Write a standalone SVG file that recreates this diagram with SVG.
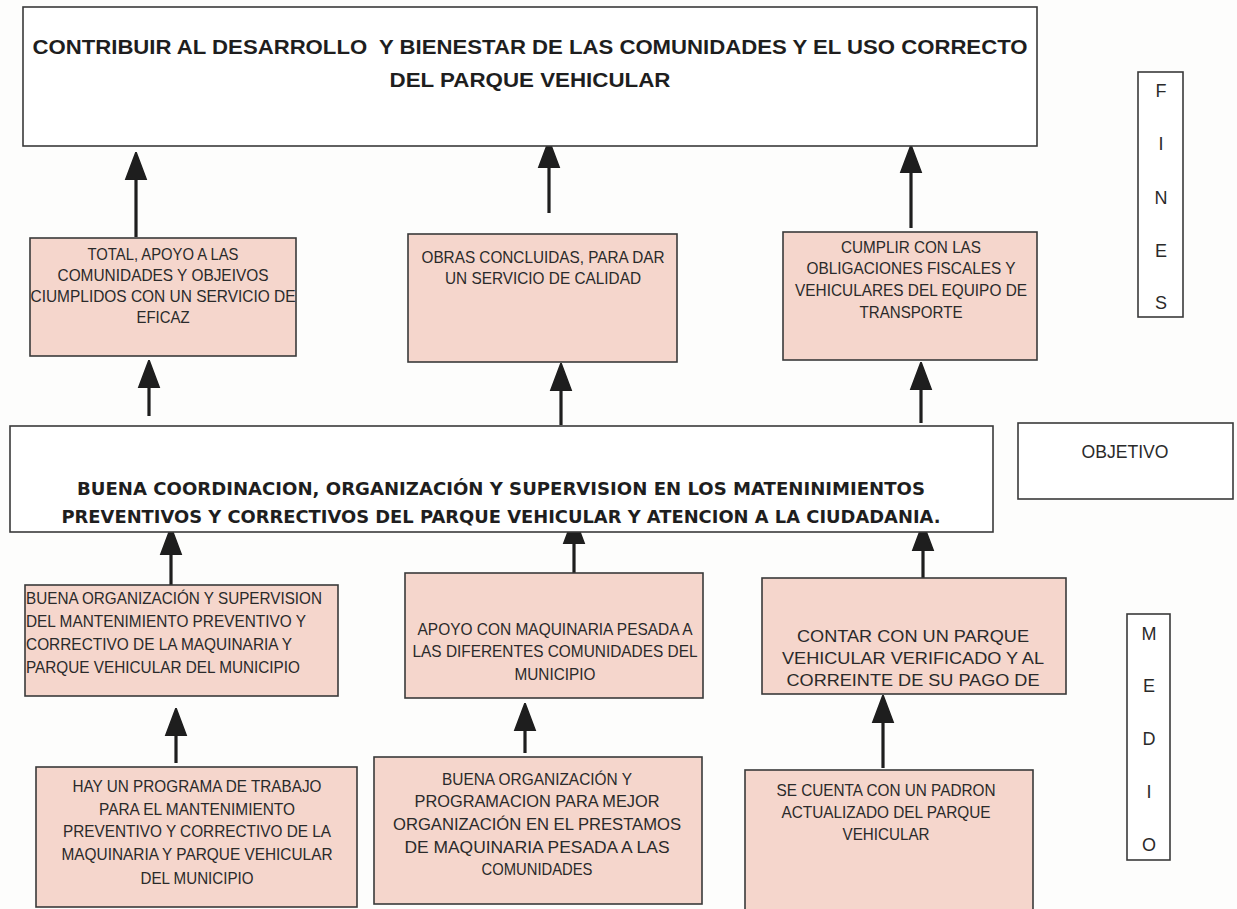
<svg xmlns="http://www.w3.org/2000/svg" width="1237" height="909" viewBox="0 0 1237 909">
<style>
.bg{fill:#fdfdfc}
.box{fill:#f5d6cc;stroke:#3a3a3a;stroke-width:1.6}
.wbox{fill:#ffffff;stroke:#3a3a3a;stroke-width:1.6}
.t{font-family:"Liberation Sans Narrow","Liberation Sans",Arial,sans-serif;font-size:17px;fill:#2a2a2a;text-anchor:middle}
.tl{text-anchor:start}
.title{font-family:"Liberation Sans",Arial,sans-serif;font-weight:bold;font-size:20px;fill:#1e1e1e;text-anchor:middle}
.obj{font-family:"DejaVu Sans",Verdana,sans-serif;font-weight:bold;font-size:17.5px;fill:#1e1e1e;text-anchor:middle}
.side{font-family:"Liberation Sans Narrow","Liberation Sans",Arial,sans-serif;font-size:18px;fill:#2a2a2a;text-anchor:middle}
.arr{stroke:#1e1e1e;stroke-width:3.2;fill:none;marker-end:url(#ah)}
</style>
<defs>
<marker id="ah" viewBox="0 0 28 24" refX="16" refY="12" markerWidth="28" markerHeight="24" markerUnits="userSpaceOnUse" orient="auto">
<path d="M0,1.5 L28,12 L0,22.5 Z" fill="#1e1e1e" stroke="#1e1e1e" stroke-width="1.5" stroke-linejoin="round"/>
</marker>
</defs>
<rect class="bg" x="0" y="0" width="1237" height="909"/>

<g id="connectors">
<line class="arr" x1="136" y1="237" x2="136" y2="164"/>
<line class="arr" x1="549" y1="213" x2="549" y2="152"/>
<line class="arr" x1="911" y1="228" x2="911" y2="157"/>
<line class="arr" x1="149" y1="416" x2="149" y2="372"/>
<line class="arr" x1="561" y1="425" x2="561" y2="375"/>
<line class="arr" x1="921" y1="423" x2="921" y2="374"/>
<line class="arr" x1="171" y1="585" x2="171" y2="539"/>
<line class="arr" x1="574" y1="573" x2="574" y2="528"/>
<line class="arr" x1="923" y1="578" x2="923" y2="535"/>
<line class="arr" x1="176" y1="763" x2="176" y2="720"/>
<line class="arr" x1="525" y1="753" x2="525" y2="715"/>
<line class="arr" x1="883" y1="768" x2="883" y2="707"/>
</g>

<g id="fin-principal">
<rect class="wbox" x="23" y="7" width="1014" height="139"/>
<text class="title" x="530" y="54" textLength="995" lengthAdjust="spacingAndGlyphs" xml:space="preserve">CONTRIBUIR AL DESARROLLO  Y BIENESTAR DE LAS COMUNIDADES Y EL USO CORRECTO</text>
<text class="title" x="530" y="87" textLength="281" lengthAdjust="spacingAndGlyphs">DEL PARQUE VEHICULAR</text>
</g>

<g id="label-fines">
<rect class="wbox" x="1138" y="72" width="45" height="245"/>
<text class="side" x="1161" y="97">F</text>
<text class="side" x="1161" y="150">I</text>
<text class="side" x="1161" y="204">N</text>
<text class="side" x="1161" y="257">E</text>
<text class="side" x="1161" y="309">S</text>
</g>

<g id="fin-1">
<rect class="box" x="30" y="238" width="266" height="118"/>
<text class="t" x="163" y="260" textLength="151" lengthAdjust="spacingAndGlyphs">TOTAL, APOYO A LAS</text>
<text class="t" x="163" y="281" textLength="211" lengthAdjust="spacingAndGlyphs">COMUNIDADES Y OBJEIVOS</text>
<text class="t" x="163" y="302" textLength="265" lengthAdjust="spacingAndGlyphs">CIUMPLIDOS CON UN SERVICIO DE</text>
<text class="t" x="163" y="323" textLength="53" lengthAdjust="spacingAndGlyphs">EFICAZ</text>
</g>

<g id="fin-2">
<rect class="box" x="408" y="234" width="269" height="128"/>
<text class="t" x="543" y="263" textLength="243" lengthAdjust="spacingAndGlyphs">OBRAS CONCLUIDAS, PARA DAR</text>
<text class="t" x="543" y="284" textLength="196" lengthAdjust="spacingAndGlyphs">UN SERVICIO DE CALIDAD</text>
</g>

<g id="fin-3">
<rect class="box" x="783" y="232" width="254" height="128"/>
<text class="t" x="911" y="253" textLength="140" lengthAdjust="spacingAndGlyphs">CUMPLIR CON LAS</text>
<text class="t" x="911" y="274" textLength="209" lengthAdjust="spacingAndGlyphs">OBLIGACIONES FISCALES Y</text>
<text class="t" x="911" y="296" textLength="232" lengthAdjust="spacingAndGlyphs">VEHICULARES DEL EQUIPO DE</text>
<text class="t" x="911" y="318" textLength="103" lengthAdjust="spacingAndGlyphs">TRANSPORTE</text>
</g>

<g id="objetivo-central">
<rect class="wbox" x="10" y="426" width="983" height="106"/>
<text class="obj" x="501" y="495" textLength="848" lengthAdjust="spacingAndGlyphs">BUENA COORDINACION, ORGANIZACIÓN Y SUPERVISION EN LOS MATENINIMIENTOS</text>
<text class="obj" x="501" y="523" textLength="879" lengthAdjust="spacingAndGlyphs">PREVENTIVOS Y CORRECTIVOS DEL PARQUE VEHICULAR Y ATENCION A LA CIUDADANIA.</text>
</g>

<g id="label-objetivo">
<rect class="wbox" x="1018" y="423" width="215" height="76"/>
<text class="side" x="1125" y="458" font-size="19" textLength="87" lengthAdjust="spacingAndGlyphs">OBJETIVO</text>
</g>

<g id="medio-1">
<rect class="box" x="25" y="585" width="313" height="111"/>
<text class="t tl" x="26" y="604" textLength="296" lengthAdjust="spacingAndGlyphs">BUENA ORGANIZACIÓN Y SUPERVISION</text>
<text class="t tl" x="26" y="627" textLength="280" lengthAdjust="spacingAndGlyphs">DEL MANTENIMIENTO PREVENTIVO Y</text>
<text class="t tl" x="26" y="650" textLength="266" lengthAdjust="spacingAndGlyphs">CORRECTIVO DE LA MAQUINARIA Y</text>
<text class="t tl" x="26" y="673" textLength="274" lengthAdjust="spacingAndGlyphs">PARQUE VEHICULAR DEL MUNICIPIO</text>
</g>

<g id="medio-2">
<rect class="box" x="405" y="573" width="298" height="125"/>
<text class="t" x="555" y="635" textLength="275" lengthAdjust="spacingAndGlyphs">APOYO CON MAQUINARIA PESADA A</text>
<text class="t" x="555" y="657" textLength="285" lengthAdjust="spacingAndGlyphs">LAS DIFERENTES COMUNIDADES DEL</text>
<text class="t" x="555" y="680" textLength="81" lengthAdjust="spacingAndGlyphs">MUNICIPIO</text>
</g>

<g id="medio-3">
<rect class="box" x="762" y="578" width="304" height="116"/>
<text class="t" x="913" y="642" font-size="18" textLength="232" lengthAdjust="spacingAndGlyphs">CONTAR CON UN PARQUE</text>
<text class="t" x="913" y="664" font-size="18" textLength="262" lengthAdjust="spacingAndGlyphs">VEHICULAR VERIFICADO Y AL</text>
<text class="t" x="913" y="686" font-size="18" textLength="253" lengthAdjust="spacingAndGlyphs">CORREINTE DE SU PAGO DE</text>
</g>

<g id="label-medio">
<rect class="wbox" x="1127" y="614" width="43" height="246"/>
<text class="side" x="1149" y="640">M</text>
<text class="side" x="1149" y="692">E</text>
<text class="side" x="1149" y="745">D</text>
<text class="side" x="1149" y="798">I</text>
<text class="side" x="1149" y="851">O</text>
</g>

<g id="causa-1">
<rect class="box" x="36" y="767" width="321" height="140"/>
<text class="t" x="197" y="792" textLength="249" lengthAdjust="spacingAndGlyphs">HAY UN PROGRAMA DE TRABAJO</text>
<text class="t" x="197" y="815" textLength="196" lengthAdjust="spacingAndGlyphs">PARA EL MANTENIMIENTO</text>
<text class="t" x="197" y="837" textLength="268" lengthAdjust="spacingAndGlyphs">PREVENTIVO Y CORRECTIVO DE LA</text>
<text class="t" x="197" y="860" textLength="271" lengthAdjust="spacingAndGlyphs">MAQUINARIA Y PARQUE VEHICULAR</text>
<text class="t" x="197" y="884" textLength="113" lengthAdjust="spacingAndGlyphs">DEL MUNICIPIO</text>
</g>

<g id="causa-2">
<rect class="box" x="374" y="757" width="328" height="147"/>
<text class="t" x="537" y="785" textLength="190" lengthAdjust="spacingAndGlyphs">BUENA ORGANIZACIÓN Y</text>
<text class="t" x="537" y="807" textLength="245" lengthAdjust="spacingAndGlyphs">PROGRAMACION PARA MEJOR</text>
<text class="t" x="537" y="830" textLength="288" lengthAdjust="spacingAndGlyphs">ORGANIZACIÓN EN EL PRESTAMOS</text>
<text class="t" x="537" y="853" textLength="265" lengthAdjust="spacingAndGlyphs">DE MAQUINARIA PESADA A LAS</text>
<text class="t" x="537" y="875" textLength="111" lengthAdjust="spacingAndGlyphs">COMUNIDADES</text>
</g>

<g id="causa-3">
<rect class="box" x="745" y="770" width="288" height="145"/>
<text class="t" x="886" y="796" textLength="219" lengthAdjust="spacingAndGlyphs">SE CUENTA CON UN PADRON</text>
<text class="t" x="886" y="818" textLength="209" lengthAdjust="spacingAndGlyphs">ACTUALIZADO DEL PARQUE</text>
<text class="t" x="886" y="840" textLength="87" lengthAdjust="spacingAndGlyphs">VEHICULAR</text>
</g>
</svg>
